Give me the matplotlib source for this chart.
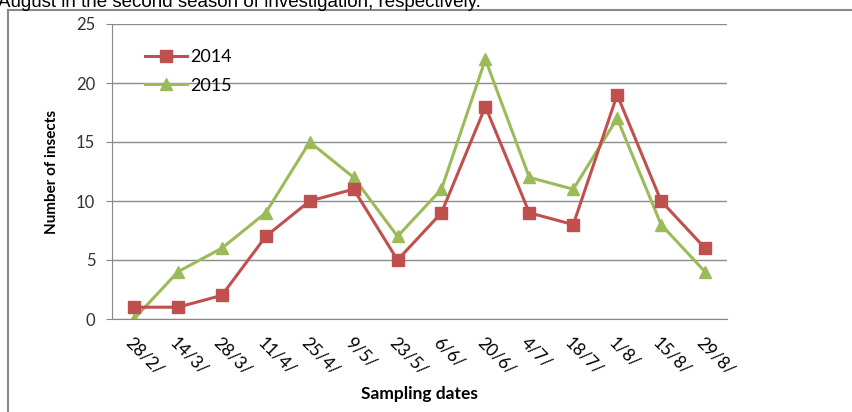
import matplotlib.pyplot as plt
from matplotlib.patches import Rectangle

# sampling dates and insect counts
dates = ["28/2/", "14/3/", "28/3/", "11/4/", "25/4/", "9/5/", "23/5/",
         "6/6/", "20/6/", "4/7/", "18/7/", "1/8/", "15/8/", "29/8/"]
counts_2014 = [1, 1, 2, 7, 10, 11, 5, 9, 18, 9, 8, 19, 10, 6]
counts_2015 = [0, 4, 6, 9, 15, 12, 7, 11, 22, 12, 11, 17, 8, 4]
y_ticks = [0, 5, 10, 15, 20, 25]

RED = "#C0504D"
GREEN = "#9BBB59"
W, H = 852, 412

fig = plt.figure(figsize=(W / 100, H / 100), dpi=100)
ax = fig.add_axes([112 / W, 1 - 319 / H, (727 - 112) / W, (319 - 24) / H])

x = list(range(len(dates)))
ax.plot(x, counts_2014, color=RED, linewidth=2.2, marker="s", markersize=9,
        label="2014", zorder=3)
ax.plot(x, counts_2015, color=GREEN, linewidth=2.2, marker="^", markersize=9,
        label="2015", zorder=2)

ax.set_xlim(-0.5, len(dates) - 0.5)
ax.set_ylim(0, 25)
ax.set_yticks(y_ticks)
ax.set_yticklabels([str(v) for v in y_ticks], fontsize=12, family="Lato",
                   color="#333333")
ax.set_xticks(x)
ax.set_xticklabels(dates, rotation=-45, ha="left", va="top", fontsize=12.5,
                   family="Lato", rotation_mode="anchor")
ax.tick_params(axis="x", length=0, pad=11)
ax.tick_params(axis="y", length=4, color="#888888", pad=8)
ax.grid(axis="y", color="#8c8c8c", linewidth=1)
ax.set_axisbelow(True)
for side in ["top", "right"]:
    ax.spines[side].set_visible(False)
for side in ["left", "bottom"]:
    ax.spines[side].set_color("#888888")

ax.set_ylabel("Number of insects", fontsize=11, fontweight="bold",
              family="Lato", labelpad=12)
ax.set_xlabel("Sampling dates", fontsize=12.5, fontweight="bold",
              family="Lato", labelpad=6)

ax.legend(loc="upper left", bbox_to_anchor=(0.054, 0.915), frameon=False,
          prop={"family": "Lato", "size": 13}, handlelength=2.3,
          handletextpad=0.2, labelspacing=0.7, borderpad=0, borderaxespad=0)

# outer border box and the clipped caption line above it
fig.patches.append(Rectangle((8 / W, -0.1), 1.2, 1 - 10 / H + 0.1,
                             transform=fig.transFigure, fill=False,
                             edgecolor="#888888", linewidth=1.5))
fig.text(-2 / W, 1 - 7 / H, "August in the second season of investigation, respectively.",
         fontsize=13.5, family="Liberation Sans", va="baseline")

fig.savefig("out.png", dpi=100)
